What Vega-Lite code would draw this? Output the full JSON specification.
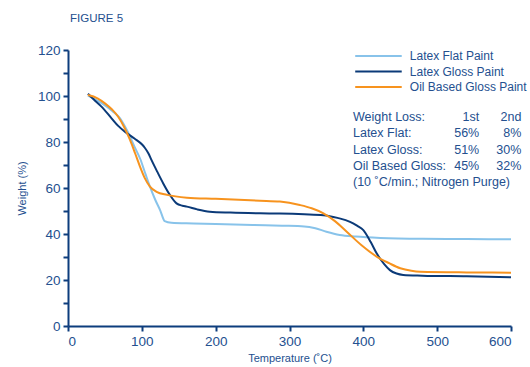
{
  "$schema": "https://vega.github.io/schema/vega-lite/v6.json",
  "width": 443,
  "height": 276,
  "autosize": "none",
  "padding": {"left": 68, "top": 50, "right": 19, "bottom": 41},
  "background": "white",
  "title": {"text": "FIGURE 5", "anchor": "start", "frame": "group", "dx": 2, "offset": 19, "fontSize": 11.5, "fontWeight": "normal", "color": "#24508f", "font": "Liberation Sans"},
  "config": {
    "view": {"stroke": null},
    "font": "Liberation Sans",
    "axis": {"grid": false, "domainColor": "#0d3d7d", "domainWidth": 2, "tickColor": "#0d3d7d", "tickWidth": 2, "tickSize": 5, "labelColor": "#24508f", "labelFontSize": 13.5, "titleColor": "#24508f", "titleFontSize": 11, "titleFontWeight": "normal"}
  },
  "datasets": {
    "curves": [
      {"s": "Latex Flat Paint", "T": 27, "W": 100.2}, {"s": "Latex Flat Paint", "T": 45, "W": 97}, {"s": "Latex Flat Paint", "T": 60, "W": 93.5}, {"s": "Latex Flat Paint", "T": 70, "W": 90.5}, {"s": "Latex Flat Paint", "T": 80, "W": 85}, {"s": "Latex Flat Paint", "T": 90, "W": 78}, {"s": "Latex Flat Paint", "T": 98, "W": 72.5}, {"s": "Latex Flat Paint", "T": 105, "W": 66}, {"s": "Latex Flat Paint", "T": 111, "W": 60.6}, {"s": "Latex Flat Paint", "T": 118, "W": 55}, {"s": "Latex Flat Paint", "T": 125, "W": 50.2}, {"s": "Latex Flat Paint", "T": 131, "W": 45.6}, {"s": "Latex Flat Paint", "T": 140, "W": 44.9}, {"s": "Latex Flat Paint", "T": 170, "W": 44.6}, {"s": "Latex Flat Paint", "T": 200, "W": 44.3}, {"s": "Latex Flat Paint", "T": 250, "W": 43.9}, {"s": "Latex Flat Paint", "T": 290, "W": 43.6}, {"s": "Latex Flat Paint", "T": 320, "W": 43.3}, {"s": "Latex Flat Paint", "T": 335, "W": 42.5}, {"s": "Latex Flat Paint", "T": 350, "W": 41}, {"s": "Latex Flat Paint", "T": 368, "W": 39.6}, {"s": "Latex Flat Paint", "T": 390, "W": 38.9}, {"s": "Latex Flat Paint", "T": 423, "W": 38.3}, {"s": "Latex Flat Paint", "T": 480, "W": 37.9}, {"s": "Latex Flat Paint", "T": 540, "W": 37.8}, {"s": "Latex Flat Paint", "T": 600, "W": 37.7},
      {"s": "Latex Gloss Paint", "T": 27, "W": 101}, {"s": "Latex Gloss Paint", "T": 35, "W": 98.5}, {"s": "Latex Gloss Paint", "T": 45, "W": 95.5}, {"s": "Latex Gloss Paint", "T": 59, "W": 90.3}, {"s": "Latex Gloss Paint", "T": 68, "W": 87}, {"s": "Latex Gloss Paint", "T": 77, "W": 84.5}, {"s": "Latex Gloss Paint", "T": 90, "W": 81.5}, {"s": "Latex Gloss Paint", "T": 100, "W": 79}, {"s": "Latex Gloss Paint", "T": 104, "W": 77.5}, {"s": "Latex Gloss Paint", "T": 109, "W": 75}, {"s": "Latex Gloss Paint", "T": 113, "W": 72.2}, {"s": "Latex Gloss Paint", "T": 121, "W": 67}, {"s": "Latex Gloss Paint", "T": 129, "W": 62}, {"s": "Latex Gloss Paint", "T": 138, "W": 57}, {"s": "Latex Gloss Paint", "T": 147, "W": 53.3}, {"s": "Latex Gloss Paint", "T": 155, "W": 52.3}, {"s": "Latex Gloss Paint", "T": 161, "W": 51.9}, {"s": "Latex Gloss Paint", "T": 175, "W": 50.7}, {"s": "Latex Gloss Paint", "T": 192, "W": 49.7}, {"s": "Latex Gloss Paint", "T": 220, "W": 49.3}, {"s": "Latex Gloss Paint", "T": 260, "W": 49}, {"s": "Latex Gloss Paint", "T": 287, "W": 48.9}, {"s": "Latex Gloss Paint", "T": 320, "W": 48.6}, {"s": "Latex Gloss Paint", "T": 346, "W": 48.2}, {"s": "Latex Gloss Paint", "T": 365, "W": 47}, {"s": "Latex Gloss Paint", "T": 382, "W": 45.3}, {"s": "Latex Gloss Paint", "T": 392, "W": 43.5}, {"s": "Latex Gloss Paint", "T": 400, "W": 41.7}, {"s": "Latex Gloss Paint", "T": 410, "W": 36.5}, {"s": "Latex Gloss Paint", "T": 418, "W": 31.6}, {"s": "Latex Gloss Paint", "T": 428, "W": 27}, {"s": "Latex Gloss Paint", "T": 436, "W": 24.3}, {"s": "Latex Gloss Paint", "T": 445, "W": 22.8}, {"s": "Latex Gloss Paint", "T": 454, "W": 22.2}, {"s": "Latex Gloss Paint", "T": 480, "W": 21.9}, {"s": "Latex Gloss Paint", "T": 540, "W": 21.6}, {"s": "Latex Gloss Paint", "T": 600, "W": 21.2},
      {"s": "Oil Based Gloss Paint", "T": 27, "W": 100.4}, {"s": "Oil Based Gloss Paint", "T": 40, "W": 99}, {"s": "Oil Based Gloss Paint", "T": 50, "W": 96.8}, {"s": "Oil Based Gloss Paint", "T": 60, "W": 94}, {"s": "Oil Based Gloss Paint", "T": 68, "W": 91}, {"s": "Oil Based Gloss Paint", "T": 76, "W": 86.5}, {"s": "Oil Based Gloss Paint", "T": 84, "W": 80.9}, {"s": "Oil Based Gloss Paint", "T": 91, "W": 75}, {"s": "Oil Based Gloss Paint", "T": 97.5, "W": 69.3}, {"s": "Oil Based Gloss Paint", "T": 104, "W": 64.3}, {"s": "Oil Based Gloss Paint", "T": 111, "W": 60.6}, {"s": "Oil Based Gloss Paint", "T": 120, "W": 58.3}, {"s": "Oil Based Gloss Paint", "T": 134, "W": 57}, {"s": "Oil Based Gloss Paint", "T": 161, "W": 55.8}, {"s": "Oil Based Gloss Paint", "T": 200, "W": 55.3}, {"s": "Oil Based Gloss Paint", "T": 260, "W": 54.5}, {"s": "Oil Based Gloss Paint", "T": 287, "W": 54.1}, {"s": "Oil Based Gloss Paint", "T": 314, "W": 52.6}, {"s": "Oil Based Gloss Paint", "T": 330, "W": 51.2}, {"s": "Oil Based Gloss Paint", "T": 346, "W": 49}, {"s": "Oil Based Gloss Paint", "T": 362, "W": 45.5}, {"s": "Oil Based Gloss Paint", "T": 377.5, "W": 41}, {"s": "Oil Based Gloss Paint", "T": 398, "W": 35}, {"s": "Oil Based Gloss Paint", "T": 418, "W": 30.2}, {"s": "Oil Based Gloss Paint", "T": 435, "W": 27.3}, {"s": "Oil Based Gloss Paint", "T": 450, "W": 25.1}, {"s": "Oil Based Gloss Paint", "T": 465, "W": 24}, {"s": "Oil Based Gloss Paint", "T": 477, "W": 23.6}, {"s": "Oil Based Gloss Paint", "T": 540, "W": 23.3}, {"s": "Oil Based Gloss Paint", "T": 600, "W": 23.2}
    ],
    "keys": [
      {"s": "Latex Flat Paint", "line": 0},
      {"s": "Latex Gloss Paint", "line": 1},
      {"s": "Oil Based Gloss Paint", "line": 2}
    ],
    "table": [
      {"line": 0, "label": "Weight Loss:", "c1": "1st", "c2": "2nd"},
      {"line": 1, "label": "Latex Flat:", "c1": "56%", "c2": "8%"},
      {"line": 2, "label": "Latex Gloss:", "c1": "51%", "c2": "30%"},
      {"line": 3, "label": "Oil Based Gloss:", "c1": "45%", "c2": "32%"},
      {"line": 4, "label": "(10 ˚C/min.; Nitrogen Purge)", "c1": "", "c2": ""}
    ]
  },
  "layer": [
    {
      "data": {"name": "curves"},
      "mark": {"type": "line", "interpolate": "monotone", "strokeWidth": 2},
      "encoding": {
        "x": {"field": "T", "type": "quantitative", "scale": {"domain": [0, 600], "nice": false},
          "axis": {"values": [0, 50, 100, 150, 200, 250, 300, 350, 400, 450, 500, 550, 600], "labelExpr": "datum.value % 100 == 0 ? datum.label : ''", "title": "Temperature (˚C)", "labelPadding": 3, "titlePadding": 5}},
        "y": {"field": "W", "type": "quantitative", "scale": {"domain": [0, 120], "nice": false},
          "axis": {"values": [0, 10, 20, 30, 40, 50, 60, 70, 80, 90, 100, 110, 120], "labelExpr": "datum.value % 20 == 0 ? datum.label : ''", "title": "Weight (%)", "labelPadding": 3, "titlePadding": 10}},
        "color": {"field": "s", "type": "nominal",
          "scale": {"domain": ["Latex Flat Paint", "Latex Gloss Paint", "Oil Based Gloss Paint"], "range": ["#88c3ea", "#0b3a78", "#f7931e"]},
          "legend": null}
      }
    },
    {
      "data": {"name": "keys"},
      "encoding": {
        "y": {"field": "line", "type": "quantitative", "scale": {"domain": [0, 2], "range": [6, 37]}, "axis": null}
      },
      "layer": [
        {"mark": {"type": "rule", "strokeWidth": 2},
          "encoding": {"x": {"datum": 389, "type": "quantitative"}, "x2": {"datum": 452}, "color": {"field": "s", "type": "nominal", "legend": null}}},
        {"mark": {"type": "text", "align": "left", "baseline": "middle", "fontSize": 12, "color": "#24508f"},
          "encoding": {"x": {"datum": 463, "type": "quantitative"}, "text": {"field": "s"}}}
      ]
    },
    {
      "data": {"name": "table"},
      "encoding": {
        "y": {"field": "line", "type": "quantitative", "scale": {"domain": [0, 4], "range": [67, 132]}, "axis": null}
      },
      "layer": [
        {"mark": {"type": "text", "align": "left", "baseline": "middle", "fontSize": 12.5, "color": "#24508f"},
          "encoding": {"x": {"datum": 386, "type": "quantitative"}, "text": {"field": "label"}}},
        {"mark": {"type": "text", "align": "right", "baseline": "middle", "fontSize": 12.5, "color": "#24508f"},
          "encoding": {"x": {"datum": 557, "type": "quantitative"}, "text": {"field": "c1"}}},
        {"mark": {"type": "text", "align": "right", "baseline": "middle", "fontSize": 12.5, "color": "#24508f"},
          "encoding": {"x": {"datum": 614, "type": "quantitative"}, "text": {"field": "c2"}}}
      ]
    }
  ],
  "resolve": {"scale": {"y": "independent"}}
}
